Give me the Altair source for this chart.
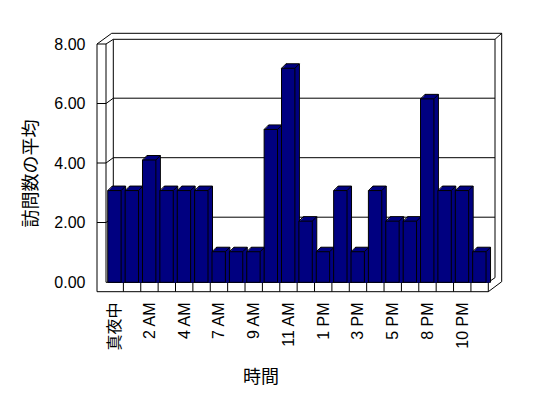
import json
import altair as alt
import pandas as pd

# ---- data ----
hours = ['真夜中', '1 AM', '2 AM', '3 AM', '4 AM', '5 AM', '7 AM', '8 AM', '9 AM', '10 AM',
         '11 AM', '12 PM', '1 PM', '2 PM', '3 PM', '4 PM', '5 PM', '6 PM', '8 PM', '9 PM',
         '10 PM', '11 PM']
visits = [3, 3, 4, 3, 3, 3, 1, 1, 1, 5, 7, 2, 1, 3, 1, 3, 2, 2, 6, 3, 3, 1]
y_ticks = [0, 2, 4, 6, 8]
grid_vals = [2, 4, 6]

NAVY = '#000080'
FONT = 'Liberation Sans, Arial, Noto Sans CJK JP, sans-serif'
DX, DY = 4.5, -4.5  # 3D depth offset of the bars

n = len(hours)
bars = pd.DataFrame({'idx': list(range(n)), 'hour': hours, 'visits': visits})
bars['left'] = bars['idx'] + 0.10
bars['right'] = bars['idx'] + 0.87
bars['base'] = 0
label_pos = [i + 0.5 for i in range(0, n, 2)]
dividers = pd.DataFrame({'b': list(range(1, n))})
grid = pd.DataFrame({'g': grid_vals})
ticks = pd.DataFrame({'v': y_ticks})

x_scale = alt.Scale(domain=[0, n], range=[9, 391.3], zero=False, nice=False)
bar_y = alt.Scale(domain=[0, 8], range=[238.3, -6.3], zero=False, nice=False)
front_y = alt.Scale(domain=[0, 8], range=[238, 0], zero=False, nice=False)

x_axis = alt.Axis(
    values=label_pos,
    labelExpr=json.dumps(hours, ensure_ascii=False) + '[floor(datum.value)]',
    labelAngle=270, labelAlign='right', labelBaseline='middle',
    labelFontSize=16, labelPadding=20, labelOverlap=False, labelFlush=False,
    labelColor='black', ticks=False, domain=False, grid=False,
    title='時間', titleFontSize=18, titleFontWeight='normal', titleColor='black',
    titleX=163.5, titleY=95, titleAlign='center', titleBaseline='middle', titleAngle=0,
)
y_axis = alt.Axis(
    values=y_ticks, format='.2f', labelFontSize=16, labelPadding=12, labelColor='black',
    ticks=False, domain=False, grid=False,
    title='訪問数の平均', titleFontSize=18, titleFontWeight='normal', titleColor='black',
    titleAngle=270, titleX=-65.3, titleY=129, titleAlign='center', titleBaseline='middle',
)

one = pd.DataFrame({'k': [0]})


def seg(x1, y1, x2, y2):
    enc = dict(x=alt.value(x1), y=alt.value(y1))
    if x2 != x1:
        enc['x2'] = alt.value(x2)
    if y2 != y1:
        enc['y2'] = alt.value(y2)
    return alt.Chart(one).mark_rule(color='black', strokeWidth=1).encode(**enc)


def xenc(field):
    return alt.X(field, scale=x_scale, axis=x_axis)


# frame (pixel positions relative to the plot origin at page (97, 44))
O_X, O_Y = 97, 44
frame_pts = [
    (97, 44, 97, 291.7), (106, 44, 106, 282.3), (97, 44, 106, 44),
    (97, 44, 111.7, 33.3), (106, 44, 113.3, 39.3),
    (111.7, 33.3, 501.7, 33.3), (113.3, 39.3, 495, 39.3),
    (495, 39.3, 495, 277.7), (501.7, 33.3, 501.7, 281.7), (495, 39.3, 501.7, 33.3),
    (97, 291.7, 488.3, 291.7), (106, 282.3, 488.3, 282.3), (488.3, 282.3, 488.3, 291.7),
    (488.3, 291.7, 501.7, 281.7), (488.3, 282.3, 495, 277.7),
    (113.3, 39.3, 113.3, 276.7),
]
frame_layers = [seg(a - O_X, b - O_Y, c - O_X, d - O_Y) for a, b, c, d in frame_pts]

axis_layer = alt.Chart(ticks).mark_point(opacity=0).encode(
    y=alt.Y('v:Q', scale=front_y, axis=y_axis)
)

grid_lines = alt.Chart(grid).mark_rule(color='black', strokeWidth=1, yOffset=-5.3).encode(
    x=alt.value(16.3), x2=alt.value(398),
    y=alt.Y('g:Q', scale=front_y, axis=None),
)
wall_ticks = alt.Chart(grid).mark_rule(color='black', strokeWidth=1).encode(
    x=alt.value(0), x2=alt.value(9),
    y=alt.Y('g:Q', scale=front_y, axis=None),
)
wall_diag = alt.Chart(grid).mark_rule(color='black', strokeWidth=1, y2Offset=-5.3).encode(
    x=alt.value(9), x2=alt.value(16.3),
    y=alt.Y('g:Q', scale=front_y, axis=None), y2=alt.Y2('g:Q'),
)

floor_div = alt.Chart(dividers).mark_rule(color='black', strokeWidth=1).encode(
    x=xenc('b:Q'),
    y=alt.value(238.3), y2=alt.value(247.7),
)

back_bar = alt.Chart(bars).mark_bar(
    fill=NAVY, stroke='black', strokeWidth=1, xOffset=DX, x2Offset=DX, yOffset=DY, y2Offset=0
).encode(
    x=xenc('left:Q'), x2='right:Q',
    y=alt.Y('visits:Q', scale=bar_y, axis=None), y2='base:Q',
)

mid_layers = []
for k in range(1, 5):
    f = k / 5.0
    mid_layers.append(
        alt.Chart(bars).mark_bar(
            fill=NAVY, strokeWidth=0, xOffset=DX * f, x2Offset=DX * f, yOffset=DY * f, y2Offset=0
        ).encode(
            x=xenc('left:Q'), x2='right:Q',
            y=alt.Y('visits:Q', scale=bar_y, axis=None), y2='base:Q',
        )
    )

diag_left = alt.Chart(bars).mark_rule(color='black', strokeWidth=1, x2Offset=DX, y2Offset=DY).encode(
    x=xenc('left:Q'), x2='left:Q',
    y=alt.Y('visits:Q', scale=bar_y, axis=None), y2='visits:Q',
)
diag_right = alt.Chart(bars).mark_rule(color='black', strokeWidth=1, x2Offset=DX, y2Offset=DY).encode(
    x=xenc('right:Q'), x2='right:Q',
    y=alt.Y('visits:Q', scale=bar_y, axis=None), y2='visits:Q',
)

front_bar = alt.Chart(bars).mark_bar(fill=NAVY, stroke='black', strokeWidth=1).encode(
    x=xenc('left:Q'), x2='right:Q',
    y=alt.Y('visits:Q', scale=bar_y, axis=None), y2='base:Q',
    tooltip=['hour:N', 'visits:Q'],
)

chart = alt.layer(
    axis_layer, *frame_layers, grid_lines, wall_ticks, wall_diag, floor_div,
    back_bar, *mid_layers, diag_left, diag_right, front_bar,
).resolve_scale(y='independent').properties(
    width=391, height=238,
    autosize=alt.AutoSizeParams(type='none'),
    padding={'left': 97, 'top': 44, 'right': 60, 'bottom': 116},
    background='white',
).configure_view(strokeWidth=0).configure_axis(
    labelFont=FONT, titleFont=FONT
)

chart.save('out.html', embed_options={'renderer': 'svg', 'actions': False})
